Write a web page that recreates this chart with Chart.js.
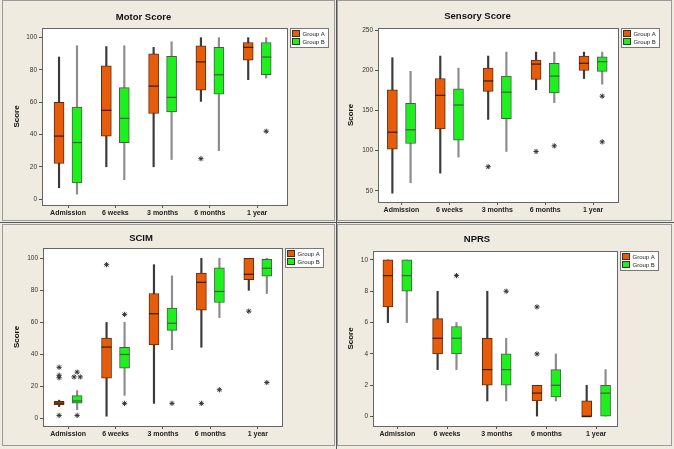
<!DOCTYPE html>
<html>
<head>
<meta charset="utf-8">
<script src="https://cdn.jsdelivr.net/npm/chart.js@4.4.1/dist/chart.umd.min.js"></script>
<style>
  body { margin: 0; background: #efebe0; width: 674px; height: 449px; position: relative; overflow: hidden; }
  canvas { position: absolute; }
  .frame { position: absolute; box-sizing: border-box; border: 1px solid #9a9a9a; }
  .sep { position: absolute; background: #555; }
</style>
</head>
<body>
<canvas id="motor" width="336" height="222" style="left:0;top:0"></canvas>
<canvas id="sensory" width="337" height="222" style="left:337px;top:0"></canvas>
<canvas id="scim" width="336" height="225" style="left:0;top:224px"></canvas>
<canvas id="nprs" width="337" height="225" style="left:337px;top:224px"></canvas>
<div class="frame" style="left:2px;top:0;width:333px;height:221px"></div>
<div class="frame" style="left:337px;top:0;width:335px;height:221px"></div>
<div class="frame" style="left:2px;top:224px;width:333px;height:222px"></div>
<div class="frame" style="left:337px;top:224px;width:335px;height:222px"></div>
<div class="sep" style="left:0;top:222px;width:674px;height:1px"></div>
<div class="sep" style="left:336px;top:0;width:1px;height:449px"></div>
<script>
const categories = ["Admission", "6 weeks", "3 months", "6 months", "1 year"];
const groupLabels = ["Group A", "Group B"];

// each row: [min, Q1, median, Q3, max] for one time point
const motorA = [[7, 22, 39, 60, 88], [20, 39, 55, 82.5, 94.5], [20, 53, 70, 90, 94], [60.5, 67.5, 85, 95, 100], [74, 86, 94, 97, 100]];
const motorB = [[3, 10, 35, 57, 95], [12, 35, 50, 69, 95], [24.5, 54, 63, 88.5, 97.5], [30, 65, 77, 94, 100], [75, 77, 88, 97, 100]];
const motorOutA = [[], [], [], [25], []];
const motorOutB = [[], [], [], [], [42]];
const motorTicks = [0, 20, 40, 60, 80, 100];

const sensoryA = [[47, 102, 123, 176, 216], [72, 127, 169, 190, 218], [139, 174, 187, 203, 218], [176, 189, 208, 213, 223], [190, 200, 209, 218, 223]];
const sensoryB = [[60, 109, 126, 159, 199], [92, 113, 157, 177, 203], [99, 140, 173, 193, 223], [160, 172, 193, 209, 223], [183, 199, 211, 217, 223]];
const sensoryOutA = [[], [], [80], [99], []];
const sensoryOutB = [[], [], [], [106], [168, 111]];
const sensoryTicks = [50, 100, 150, 200, 250];

const scimA = [[7.5, 8.7, 9.7, 10.8, 11.5], [1.5, 25.3, 44.6, 50.2, 60], [9.5, 46, 65.4, 78, 96], [44.5, 67.6, 85, 90.7, 100], [80, 86.7, 90, 100, 100]];
const scimB = [[5.5, 9.7, 11, 14.3, 17.5], [14.5, 31.5, 40, 44.4, 60], [43, 55, 59.5, 69, 89], [63, 72.4, 79.3, 94, 100], [78, 88.8, 93.8, 99.4, 100]];
const scimOutA = [[32, 27, 25.5, 2], [96], [], [9.5], [67]];
const scimOutB = [[29, 26, 26, 2], [65, 9.5], [9.5], [18], [22.5]];
const scimTicks = [0, 20, 40, 60, 80, 100];

const nprsA = [[6, 7, 9, 10, 10], [3, 4, 5, 6.25, 8], [1, 2, 3, 5, 8], [0, 1, 1.5, 2, 2], [0, 0, 0, 1, 2]];
const nprsB = [[6, 8, 9, 10, 10], [3, 4, 5, 5.75, 6], [1, 2, 3, 4, 5], [1, 1.25, 2, 3, 4], [0, 0, 1.5, 2, 3]];
const nprsOutA = [[], [], [], [7, 4], []];
const nprsOutB = [[], [9], [8], [], []];
const nprsTicks = [0, 2, 4, 6, 8, 10];

const FONT = "'Liberation Sans', Arial, sans-serif";
const fills = ["#e65c0a", "#1ef01e"];
const edges = ["#5a2c10", "#4a5a4a"];
const whiskers = ["#3a3a3a", "#8c8c8c"];
const medians = ["#3a1a08", "#3f5f3f"];
const shift = [-0.19, 0.19];

const plotFrame = {
  id: "plotFrame",
  beforeDatasetsDraw(chart) {
    const a = chart.chartArea, ctx = chart.ctx;
    ctx.save();
    ctx.fillStyle = "#fff";
    ctx.fillRect(a.left, a.top, a.right - a.left, a.bottom - a.top);
    ctx.restore();
  },
  afterDraw(chart) {
    const a = chart.chartArea, ctx = chart.ctx;
    ctx.save();
    ctx.strokeStyle = "#666";
    ctx.lineWidth = 1;
    ctx.strokeRect(Math.round(a.left) + 0.5, Math.round(a.top) + 0.5, Math.round(a.right - a.left), Math.round(a.bottom - a.top));
    // boxed legend
    const x = Math.round(a.right) + 3.5, y = Math.round(a.top) + 0.5;
    ctx.font = "6px " + FONT;
    const tw = Math.max(...groupLabels.map(t => ctx.measureText(t).width));
    const w = Math.round(tw + 16), h = 19;
    ctx.fillStyle = "#fff";
    ctx.fillRect(x, y, w, h);
    ctx.strokeStyle = "#777";
    ctx.strokeRect(x, y, w, h);
    groupLabels.forEach((t, k) => {
      ctx.fillStyle = fills[k];
      ctx.fillRect(x + 2, y + 2 + k * 8, 7, 6);
      ctx.strokeStyle = "#333";
      ctx.strokeRect(x + 2, y + 2 + k * 8, 7, 6);
      ctx.fillStyle = "#222";
      ctx.textBaseline = "middle";
      ctx.fillText(t, x + 12, y + 5.5 + k * 8);
    });
    ctx.restore();
  }
};

function makeChart(id, title, groups, outs, yTicks, yMin, yMax, geo) {
  const datasets = [];
  groups.forEach((rows, g) => {
    const dx = shift[g];
    datasets.push({
      type: "bar", label: groupLabels[g], order: 2,
      data: rows.map((r, i) => ({ x: i + dx, y: [r[1], r[3]] })),
      backgroundColor: fills[g], borderColor: edges[g], borderWidth: 1,
      borderSkipped: false, barThickness: 10, grouped: false
    });
    datasets.push({
      type: "bar", label: "whisker", order: 3,
      data: rows.map((r, i) => ({ x: i + dx, y: [r[0], r[4]] })),
      backgroundColor: whiskers[g], barThickness: 1.5, grouped: false
    });
    datasets.push({
      type: "scatter", label: "median", order: 1,
      data: rows.map((r, i) => ({ x: i + dx, y: r[2] })),
      pointStyle: "line", pointRadius: 5, borderColor: medians[g], borderWidth: 1.2
    });
    const pts = [];
    outs[g].forEach((list, i) => {
      list.forEach((v, j) => {
        const same = list.filter(u => u === v).length;
        const k = list.slice(0, j).filter(u => u === v).length;
        const off = same > 1 ? (k - (same - 1) / 2) * 0.13 : 0;
        pts.push({ x: i + dx + off, y: v });
      });
    });
    datasets.push({
      type: "scatter", label: "outlier", order: 0, data: pts,
      pointStyle: "star", pointRadius: 2.6, borderColor: "#333", borderWidth: 1
    });
  });

  new Chart(document.getElementById(id), {
    type: "bar",
    data: { datasets },
    options: {
      responsive: false, animation: false, events: [],
      layout: { padding: { left: 0, top: 0, bottom: 0, right: geo.w - geo.right } },
      plugins: {
        legend: { display: false },
        tooltip: { enabled: false },
        title: {
          display: true, text: title, color: "#111",
          font: { family: FONT, size: 9.5, weight: "bold" },
          padding: { top: geo.tc - 5.7, bottom: geo.top - geo.tc - 5.7 }
        }
      },
      scales: {
        x: {
          type: "linear", min: geo.xMin, max: geo.xMax, offset: false,
          afterBuildTicks: s => { s.ticks = categories.map((c, i) => ({ value: i })); },
          afterFit: s => { s.height = geo.h - geo.bottom; },
          ticks: { callback: v => categories[v], autoSkip: false, maxRotation: 0, padding: 1,
                   color: "#222", font: { family: FONT, size: 7, weight: "bold" } },
          grid: { drawOnChartArea: false, offset: false, tickLength: 3, color: "#555" },
          border: { color: "#555" }
        },
        y: {
          min: yMin, max: yMax,
          afterBuildTicks: s => { s.ticks = yTicks.map(v => ({ value: v })); },
          afterFit: s => { s.width = geo.left; },
          ticks: { padding: 2, color: "#333", font: { family: FONT, size: 6.5 } },
          grid: { drawOnChartArea: false, tickLength: 3, color: "#555" },
          border: { color: "#555" },
          title: { display: true, text: "Score", color: "#111",
                   font: { family: FONT, size: 8, weight: "bold" },
                   padding: { top: geo.ax - 4.8, bottom: 0 } }
        }
      }
    },
    plugins: [plotFrame]
  });
}

makeChart("motor", "Motor Score", [motorA, motorB], [motorOutA, motorOutB], motorTicks, -3.7, 106,
  { w: 336, h: 222, left: 42, right: 287, top: 28, bottom: 205, tc: 17, ax: 16.7, xMin: -0.55, xMax: 4.63 });
makeChart("sensory", "Sensory Score", [sensoryA, sensoryB], [sensoryOutA, sensoryOutB], sensoryTicks, 36, 253,
  { w: 337, h: 222, left: 41, right: 281, top: 28, bottom: 202, tc: 16, ax: 13.3, xMin: -0.49, xMax: 4.52 });
makeChart("scim", "SCIM", [scimA, scimB], [scimOutA, scimOutB], scimTicks, -4.6, 106.4,
  { w: 336, h: 225, left: 43, right: 282, top: 24, bottom: 202, tc: 14, ax: 16.7, xMin: -0.53, xMax: 4.51 });
makeChart("nprs", "NPRS", [nprsA, nprsB], [nprsOutA, nprsOutB], nprsTicks, -0.6, 10.57,
  { w: 337, h: 225, left: 36, right: 280, top: 27, bottom: 202, tc: 15, ax: 13.3, xMin: -0.49, xMax: 4.42 });
</script>
</body>
</html>
